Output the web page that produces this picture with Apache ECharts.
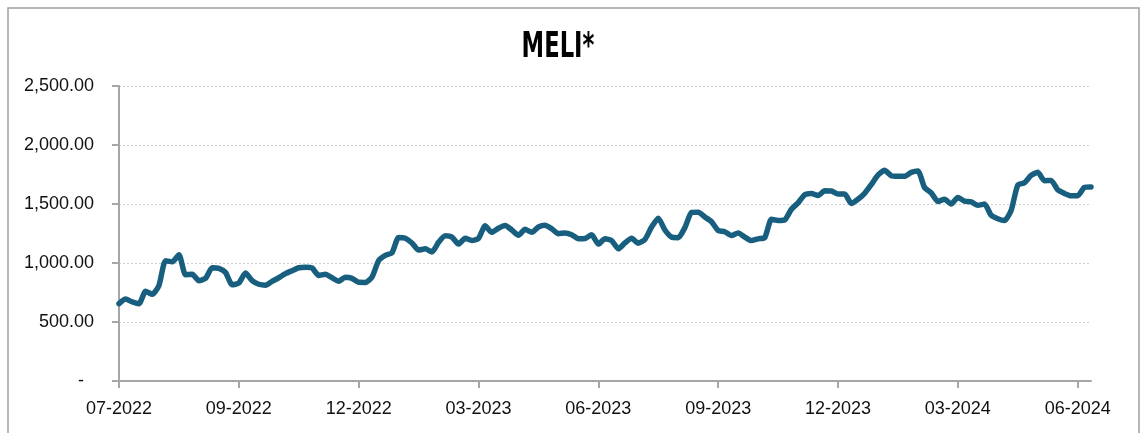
<!DOCTYPE html>
<html>
<head>
<meta charset="utf-8">
<style>
html,body{margin:0;padding:0;background:#fff;}
#c{width:1147px;height:433px;}
</style>
<script src="https://cdn.jsdelivr.net/npm/echarts@6/dist/echarts.min.js"></script>
</head>
<body>
<div id="c"></div>
<script>
const title = 'MELI*';
const tickLabels = ['07-2022','09-2022','12-2022','03-2023','06-2023','09-2023','12-2023','03-2024','06-2024'];
const pointsPerTick = 18;
const prices = [
  656, 695, 670, 655, 760, 735, 810, 1020, 1010, 1070,
  900, 905, 850, 870, 960, 955, 920, 815, 830, 915,
  850, 820, 812, 845, 875, 910, 935, 960, 965, 958,
  895, 905, 875, 845, 880, 870, 836, 835, 880, 1020,
  1065, 1086, 1216, 1210, 1170, 1110, 1120, 1094, 1175, 1230,
  1220, 1160, 1210, 1190, 1208, 1315, 1260, 1295, 1318, 1280,
  1235, 1285, 1260, 1305, 1320, 1290, 1248, 1255, 1240, 1206,
  1208, 1240, 1160, 1205, 1190, 1120, 1170, 1210, 1168, 1200,
  1305, 1380, 1280, 1220, 1215, 1300, 1428, 1430, 1390, 1350,
  1276, 1265, 1232, 1255, 1220, 1190, 1205, 1215, 1370, 1360,
  1365, 1455, 1510, 1578, 1590, 1572, 1612, 1610, 1584, 1584,
  1505, 1540, 1590, 1665, 1745, 1785, 1740, 1735, 1735, 1768,
  1780, 1640, 1595, 1522, 1541, 1500, 1555, 1525, 1518, 1490,
  1499, 1405, 1375, 1360, 1445, 1660, 1680, 1742, 1770, 1698,
  1700, 1620, 1590, 1570, 1570, 1640, 1645
];
const categories = prices.map((_, i) => (i % pointsPerTick === 0 && tickLabels[i / pointsPerTick]) ? tickLabels[i / pointsPerTick] : ('p' + i));

const chart = echarts.init(document.getElementById('c'), null, {renderer: 'canvas'});
const axisGray = '#a6a6a6';
chart.setOption({
  animation: false,
  backgroundColor: '#ffffff',
  graphic: [{
    type: 'rect', silent: true,
    shape: {x: 8, y: 8, width: 1131, height: 440},
    style: {fill: 'none', stroke: '#a0a0a0', lineWidth: 1.5}
  }, {
    type: 'text', silent: true,
    x: 558, y: 48, scaleX: 0.72,
    style: {
      text: title,
      align: 'center', verticalAlign: 'middle',
      fontFamily: '"DejaVu Sans Condensed", "DejaVu Sans", sans-serif',
      fontWeight: 'bold', fontSize: 35, fill: '#000'
    }
  }],
  grid: {left: 119, right: 56, top: 86, bottom: 52},
  xAxis: {
    type: 'category',
    data: categories,
    boundaryGap: false,
    axisLine: {lineStyle: {color: axisGray, width: 2}},
    axisTick: {interval: pointsPerTick - 1, length: 7, lineStyle: {color: axisGray, width: 2}},
    axisLabel: {
      interval: pointsPerTick - 1,
      margin: 19,
      fontFamily: '"Liberation Sans", Arial, sans-serif',
      fontSize: 18,
      color: '#111',
      formatter: (v) => v
    },
    splitLine: {show: false}
  },
  yAxis: {
    type: 'value',
    min: 0, max: 2500, interval: 500,
    axisLine: {show: true, lineStyle: {color: axisGray, width: 2}},
    axisTick: {show: true, length: 7, lineStyle: {color: axisGray, width: 2}},
    axisLabel: {
      margin: 25,
      fontFamily: '"Liberation Sans", Arial, sans-serif',
      fontSize: 18,
      color: '#111',
      formatter: (v) => v === 0 ? '-  ' : v.toLocaleString('en-US', {minimumFractionDigits: 2, maximumFractionDigits: 2})
    },
    splitLine: {lineStyle: {color: '#cfcfcf', type: [2, 2], width: 1}}
  },
  series: [{
    type: 'line',
    data: prices,
    showSymbol: false,
    smooth: 0.2,
    lineStyle: {color: '#185f7f', width: 5.5, cap: 'round', join: 'round'},
    itemStyle: {color: '#185f7f'}
  }]
});
</script>
</body>
</html>
